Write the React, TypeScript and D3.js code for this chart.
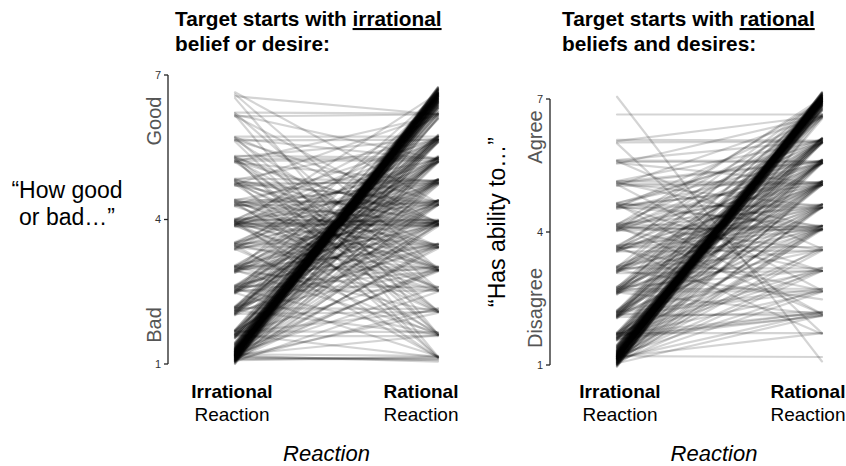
import React from 'react';
import { scaleLinear, scalePoint } from 'd3';

const reactions = ['Irrational', 'Rational'];
const yTicks = [1, 4, 7];

// each pair = [rating after irrational reaction, rating after rational reaction]
const irrationalTargetLines = [
  // the big bottom -> top bundle
  [1.02,6.6],[1.4,6.36],[1.15,6.72],[1.28,6.32],[1.08,6.5],[1.35,6.68],[1.2,6.42],[1.05,6.74],[1.44,6.55],[1.12,6.38],
  [1.3,6.62],[1.18,6.46],[1.38,6.7],[1.04,6.4],[1.24,6.65],[1.33,6.3],[1.1,6.58],[1.42,6.52],[1.2,6.73],[1.0,6.45],
  [1.26,6.56],[1.39,6.64],[1.14,6.34],[1.31,6.71],[1.07,6.53],[1.22,6.37],[1.36,6.61],[1.12,6.69],[1.45,6.44],[1.17,6.63],
  [1.06,6.48],[1.29,6.75],[1.34,6.4],[1.09,6.67],[1.21,6.31],[1.41,6.59],[1.16,6.5],[1.03,6.7],[1.3,6.35],[1.25,6.63],
  [1.37,6.47],[1.11,6.74],[1.19,6.33],[1.33,6.68],[1.05,6.56],[1.27,6.43],[1.43,6.72],[1.13,6.6],[1.23,6.3],[1.35,6.66],
  [1.08,6.46],[1.32,6.57],[1.18,6.7],[1.4,6.36],[1.1,6.64],[1.28,6.52],[1.01,6.62],[1.21,6.69],[1.36,6.42],[1.15,6.39],
  [1.2,6.55],[1.25,6.5],[1.15,6.6],[1.3,6.45],[1.22,6.62],[1.18,6.48],[1.27,6.58],[1.12,6.52],[1.33,6.6],[1.24,6.44],
  [1.16,6.66],[1.29,6.53],[1.21,6.47],[1.14,6.57],[1.26,6.64],[1.19,6.41],[1.31,6.56],[1.23,6.59],[1.17,6.51],[1.28,6.49],
  [1.13,6.63],[1.25,6.54],[1.2,6.46],[1.32,6.61],[1.15,6.5],[1.27,6.43],[1.22,6.67],[1.18,6.55],[1.3,6.52],[1.24,6.58],
  // start near 1
  [1.06,6.12],[1.24,6.25],[1.12,6.1],[1.18,6.2],[1.08,5.62],[1.26,5.75],[1.14,5.66],[1.2,5.6],[1.1,5.72],[1.22,5.2],
  [1.07,5.3],[1.16,5.18],[1.27,5.27],[1.13,4.83],[1.05,4.72],[1.21,4.78],[1.18,4.3],[1.09,4.4],[1.25,4.34],[1.11,3.86],
  [1.23,3.98],[1.06,3.92],[1.17,3.9],[1.2,3.4],[1.08,3.5],[1.14,3.44],[1.26,2.92],[1.1,3.02],[1.17,2.96],[1.05,2.5],
  [1.22,2.6],[1.15,2.06],[1.09,2.16],[1.19,1.6],[1.12,1.12],[1.15,1.08],[1.08,1.15],[1.2,1.17],[1.1,1.1],[1.17,1.05],
  // start 1.6
  [1.55,6.55],[1.7,6.62],[1.6,6.5],[1.53,6.1],[1.68,6.24],[1.62,6.15],[1.57,6.2],[1.71,6.08],[1.64,6.18],[1.59,5.62],
  [1.66,5.72],[1.54,5.68],[1.69,5.6],[1.61,5.2],[1.56,5.3],[1.7,5.24],[1.63,4.72],[1.58,4.84],[1.67,4.3],[1.55,4.4],
  [1.62,3.88],[1.69,3.98],[1.6,2.93],[1.65,2.12],[1.58,1.58],[1.68,1.66],[1.62,1.14],
  // start 2.1
  [2.04,6.58],[2.16,6.5],[2.02,5.62],[2.18,5.74],[2.1,5.66],[2.06,5.7],[2.14,5.6],[2.2,5.68],[2.08,5.76],[2.12,5.64],
  [2.05,5.2],[2.17,5.3],[2.11,5.24],[2.09,4.74],[2.19,4.84],[2.03,4.8],[2.15,4.3],[2.07,4.4],[2.13,3.9],[2.01,3.98],
  [2.18,3.42],[2.06,3.48],[2.1,2.95],[2.04,2.08],[2.16,2.14],[2.12,1.6],
  // start 2.55
  [2.5,6.55],[2.6,5.64],[2.47,5.72],[2.53,5.2],[2.63,5.28],[2.48,5.24],[2.58,5.32],[2.55,5.18],[2.51,4.74],[2.62,4.82],
  [2.46,4.78],[2.57,4.3],[2.52,4.38],[2.6,3.88],[2.49,3.96],[2.54,3.42],[2.64,3.5],[2.5,2.94],[2.58,3.02],[2.53,2.52],
  [2.61,2.6],[2.56,1.6],[2.48,1.16],
  // start 3
  [2.92,6.6],[3.02,5.66],[2.9,5.72],[2.96,5.2],[3.05,5.28],[2.94,4.74],[3.03,4.8],[2.89,4.84],[2.99,4.76],[3.01,4.32],
  [2.93,4.4],[2.97,3.88],[3.04,3.96],[2.91,3.92],[3.0,3.42],[2.95,3.48],[2.98,2.95],[3.03,3.0],[2.92,2.52],[3.01,2.08],
  [2.95,1.64],
  // start 3.45
  [3.4,6.2],[3.5,5.66],[3.38,5.72],[3.47,5.2],[3.53,5.28],[3.42,4.76],[3.51,4.82],[3.45,4.3],[3.37,4.36],[3.52,4.4],
  [3.48,3.9],[3.4,3.96],[3.44,3.42],[3.5,3.48],[3.43,2.96],[3.49,2.52],[3.39,1.6],[3.46,1.14],
  // start 3.9
  [3.88,6.62],[3.98,6.15],[3.9,5.64],[4.0,5.72],[3.94,5.2],[3.86,5.28],[3.97,4.76],[3.89,4.82],[3.93,4.32],[4.01,4.38],
  [3.87,3.88],[3.96,3.95],[3.91,3.9],[3.99,3.98],[3.85,3.93],[3.94,3.86],[4.02,3.92],[3.9,4.0],[3.95,3.42],[3.88,3.48],
  [3.92,2.94],[3.99,3.0],[3.86,2.52],[3.97,2.6],[3.93,2.08],[3.9,1.64],[3.96,1.13],
  // start 4.35
  [4.3,5.66],[4.4,5.24],[4.34,4.76],[4.28,4.82],[4.42,4.3],[4.36,4.38],[4.29,4.35],[4.38,3.9],[4.31,3.96],[4.41,3.42],
  [4.33,3.48],[4.37,2.94],[4.27,3.0],[4.4,2.54],[4.32,2.08],[4.36,1.6],
  // start 4.8
  [4.72,6.2],[4.82,5.66],[4.76,4.76],[4.85,4.8],[4.7,4.82],[4.8,4.32],[4.74,4.38],[4.83,3.9],[4.71,3.96],[4.78,3.44],
  [4.75,2.95],[4.84,3.02],[4.79,2.54],[4.73,2.1],[4.81,1.14],
  // start 5.25
  [5.2,6.16],[5.3,5.68],[5.22,5.22],[5.32,5.28],[5.26,5.25],[5.18,4.78],[5.28,3.9],[5.21,3.96],[5.31,3.44],[5.24,2.96],
  [5.19,2.55],[5.29,2.1],[5.23,1.62],[5.27,1.14],
  // start 5.7 and up
  [5.64,5.66],[5.72,5.72],[5.68,5.25],[5.65,4.35],[5.71,3.93],[5.66,2.97],[5.7,2.1],[5.62,1.62],
  [6.14,6.18],[6.22,6.2],[6.18,5.25],[6.15,3.93],[6.21,2.55],[6.17,1.15],
  [6.56,6.18],[6.64,4.35],[6.6,2.97],[6.52,1.62],
];

const rationalTargetLines = [
  // the big 1 -> 7 bundle
  [0.98,7.0],[1.38,6.78],[1.12,7.12],[1.25,6.85],[1.03,7.05],[1.44,7.14],[1.18,6.76],[1.07,7.08],[1.32,6.94],[1.0,6.82],
  [1.2,7.1],[1.4,7.0],[1.1,6.88],[1.28,7.15],[1.05,6.92],[1.35,7.06],[1.15,6.74],[1.45,6.97],[1.01,7.11],[1.22,7.02],
  [1.08,6.8],[1.34,7.09],[1.17,6.93],[0.97,7.03],[1.42,6.87],[1.11,7.13],[1.27,6.77],[1.06,6.99],[1.37,7.07],[1.14,6.84],
  [1.02,7.16],[1.3,6.9],[1.46,7.04],[1.13,6.96],[0.99,6.86],[1.23,7.08],[1.36,6.73],[1.07,7.12],[1.19,7.01],[1.41,6.91],
  [1.04,6.79],[1.29,7.1],[1.1,7.04],[1.38,6.83],[0.96,6.95],[1.21,7.14],[1.33,7.0],[1.03,6.89],[1.43,7.06],[1.16,6.75],
  [1.26,7.11],[1.01,7.02],[1.39,6.85],[1.12,6.98],[1.31,7.13],[1.18,6.81],[1.06,7.07],[1.27,6.93],[1.14,7.05],[1.34,6.97],
  [1.09,7.09],[1.4,6.95],
  [1.2,6.95],[1.25,7.0],[1.15,6.9],[1.3,7.04],[1.22,6.88],[1.18,7.02],[1.27,6.93],[1.12,6.97],[1.33,6.9],[1.24,7.06],
  [1.16,6.86],[1.29,6.99],[1.21,7.03],[1.14,6.92],[1.26,6.96],[1.19,7.08],[1.31,6.94],[1.23,6.89],[1.17,7.0],[1.28,7.01],
  [1.13,6.87],[1.25,6.98],[1.2,7.05],[1.32,6.91],[1.15,7.02],[1.27,6.85],[1.22,6.96],[1.18,6.93],[1.3,6.98],[1.24,6.94],
  // start near 1
  [1.05,6.6],[1.2,6.66],[1.12,6.55],[1.08,6.02],[1.22,6.12],[1.15,6.06],[1.02,5.55],[1.18,5.64],[1.1,5.58],[1.24,5.06],
  [1.06,5.14],[1.14,5.1],[1.19,4.55],[1.03,4.62],[1.11,4.58],[1.16,4.05],[1.08,4.14],[1.23,4.1],[1.01,4.08],[1.13,3.58],
  [1.2,3.66],[1.07,3.12],[1.17,3.18],[1.1,2.65],[1.22,2.72],[1.04,2.12],[1.15,2.18],[1.18,1.72],[1.2,1.18],
  // start 1.65
  [1.58,7.02],[1.72,6.95],[1.62,7.08],[1.68,6.9],[1.56,6.02],[1.7,6.1],[1.64,6.05],[1.6,6.12],[1.74,6.0],[1.66,5.55],
  [1.57,5.62],[1.71,5.58],[1.63,5.06],[1.69,5.14],[1.59,5.1],[1.73,4.55],[1.61,4.62],[1.67,4.06],[1.55,4.14],[1.7,3.6],
  [1.62,3.12],[1.68,3.2],[1.64,2.66],[1.58,2.12],[1.7,2.18],[1.66,2.1],[1.6,2.2],[1.72,1.72],
  // start 2.15
  [2.08,7.0],[2.22,6.94],[2.14,7.08],[2.1,6.58],[2.2,6.64],[2.06,6.02],[2.18,6.1],[2.12,6.06],[2.24,6.0],[2.16,6.12],
  [2.09,5.55],[2.21,5.62],[2.13,5.58],[2.05,5.6],[2.17,5.06],[2.11,5.14],[2.23,5.1],[2.07,4.55],[2.19,4.62],[2.15,4.06],
  [2.1,4.14],[2.2,3.12],[2.12,2.66],[2.18,2.72],[2.14,2.12],[2.08,2.2],
  // start 2.7
  [2.62,7.0],[2.74,6.94],[2.66,6.58],[2.7,6.65],[2.6,6.02],[2.76,6.1],[2.68,6.06],[2.64,5.55],[2.72,5.62],[2.59,5.58],
  [2.7,5.06],[2.65,5.14],[2.77,5.1],[2.61,4.55],[2.73,4.62],[2.67,4.06],[2.69,4.14],[2.63,3.6],[2.75,3.14],[2.66,2.66],
  [2.71,2.72],[2.64,2.14],
  // start 3.15
  [3.1,7.02],[3.2,6.95],[3.14,6.02],[3.08,6.1],[3.22,5.55],[3.12,5.62],[3.17,5.06],[3.09,5.14],[3.23,5.1],[3.13,4.55],
  [3.19,4.62],[3.11,4.06],[3.21,4.14],[3.16,3.6],[3.07,3.12],[3.18,3.18],[3.14,2.48],
  // start 3.6
  [3.58,7.0],[3.66,6.6],[3.6,6.02],[3.69,6.1],[3.55,5.55],[3.64,5.62],[3.62,5.06],[3.57,5.14],[3.67,4.55],[3.59,4.62],
  [3.63,4.06],[3.7,4.14],[3.56,3.58],[3.65,3.66],[3.61,2.68],[3.68,1.7],
  // start 4.1
  [4.04,7.02],[4.16,6.95],[4.1,6.6],[4.06,6.02],[4.18,6.1],[4.12,5.55],[4.02,5.62],[4.14,5.06],[4.08,5.14],[4.19,4.55],
  [4.05,4.62],[4.11,4.06],[4.03,4.14],[4.17,4.1],[4.09,4.03],[4.15,3.6],[4.07,3.12],[4.13,2.15],
  // start 4.6
  [4.55,6.6],[4.64,6.02],[4.58,6.1],[4.52,5.55],[4.66,5.62],[4.6,5.06],[4.56,5.14],[4.62,4.55],[4.54,4.62],[4.65,4.06],
  [4.57,4.14],[4.6,3.12],[4.63,2.15],
  // start 5.1 and up
  [5.05,6.62],[5.15,6.06],[5.1,5.58],[5.13,5.6],[5.08,5.1],[5.14,5.12],[5.04,5.08],[5.1,4.58],[5.12,4.1],[5.07,2.68],
  [5.54,6.62],[5.62,6.06],[5.58,5.58],[5.61,5.6],[5.56,5.1],[5.6,3.62],
  [6.08,6.06],[6.02,6.04],[6.05,6.62],[6.0,1.72],
  [6.65,6.65],
  [7.05,1.08],
];

const panels = [
  {
    title: 'Target starts with ', titleKey: 'irrational', title2: 'belief or desire:', titleX: 175,
    axisX: 168, yRange: [364, 75], xRange: [235, 438], labelRange: [232, 421],
    high: 'Good', low: 'Bad', highY: 121, lowY: 325, poleX: 161,
    lines: irrationalTargetLines,
  },
  {
    title: 'Target starts with ', titleKey: 'rational', title2: 'beliefs and desires:', titleX: 562,
    axisX: 550, yRange: [365, 99], xRange: [617, 822], labelRange: [620, 808],
    high: 'Agree', low: 'Disagree', highY: 137, lowY: 308, poleX: 542,
    lines: rationalTargetLines,
  },
];

const font = '"Liberation Sans", Arial, Helvetica, sans-serif';

function Panel({ p }) {
  const y = scaleLinear().domain([1, 7]).range(p.yRange);
  const x = scalePoint().domain(reactions).range(p.xRange);
  const xl = scalePoint().domain(reactions).range(p.labelRange);
  const mid = (p.labelRange[0] + p.labelRange[1]) / 2;

  return (
    <g>
      <text x={p.titleX} y={26} fontSize={20.8} fontWeight="bold" fill="#000">
        {p.title}
        <tspan style={{ textDecoration: 'underline' }}>{p.titleKey}</tspan>
      </text>
      <text x={p.titleX} y={51} fontSize={20.8} fontWeight="bold" fill="#000">{p.title2}</text>

      {/* y axis */}
      <line x1={p.axisX} x2={p.axisX} y1={y(1)} y2={y(7)} stroke="#222" strokeWidth={1.3} />
      {yTicks.map(t => (
        <g key={t}>
          <line x1={p.axisX - 4} x2={p.axisX} y1={y(t)} y2={y(t)} stroke="#222" strokeWidth={1.3} />
          <text x={p.axisX - 7} y={y(t)} dy="0.35em" textAnchor="end" fontSize={11} fill="#333">{t}</text>
        </g>
      ))}
      <text transform={`translate(${p.poleX},${p.highY}) rotate(-90)`} textAnchor="middle" fontSize={20} fill="#555">{p.high}</text>
      <text transform={`translate(${p.poleX},${p.lowY}) rotate(-90)`} textAnchor="middle" fontSize={20} fill="#555">{p.low}</text>

      {/* one line per participant */}
      <g>
        {p.lines.map((d, i) => (
          <line
            key={i}
            x1={x('Irrational')}
            y1={y(d[0])}
            x2={x('Rational')}
            y2={y(d[1])}
            stroke="#000"
            strokeOpacity={0.17}
            strokeWidth={2.2}
            strokeLinecap="round"
          />
        ))}
      </g>

      {reactions.map(r => (
        <g key={r}>
          <text x={xl(r)} y={398} textAnchor="middle" fontSize={19} fontWeight="bold">{r}</text>
          <text x={xl(r)} y={421} textAnchor="middle" fontSize={19}>Reaction</text>
        </g>
      ))}
      <text x={mid} y={461} textAnchor="middle" fontSize={22} fontStyle="italic">Reaction</text>
    </g>
  );
}

export default function App() {
  return (
    <svg width={846} height={466} style={{ position: 'absolute', left: 0, top: 0, background: '#fff' }} fontFamily={font}>
      <text x={67} y={198} textAnchor="middle" fontSize={23}>“How good</text>
      <text x={67} y={225} textAnchor="middle" fontSize={23}>or bad…”</text>
      <text transform="translate(505,222) rotate(-90)" textAnchor="middle" fontSize={23}>“Has ability to…”</text>
      {panels.map((p, i) => <Panel key={i} p={p} />)}
    </svg>
  );
}
